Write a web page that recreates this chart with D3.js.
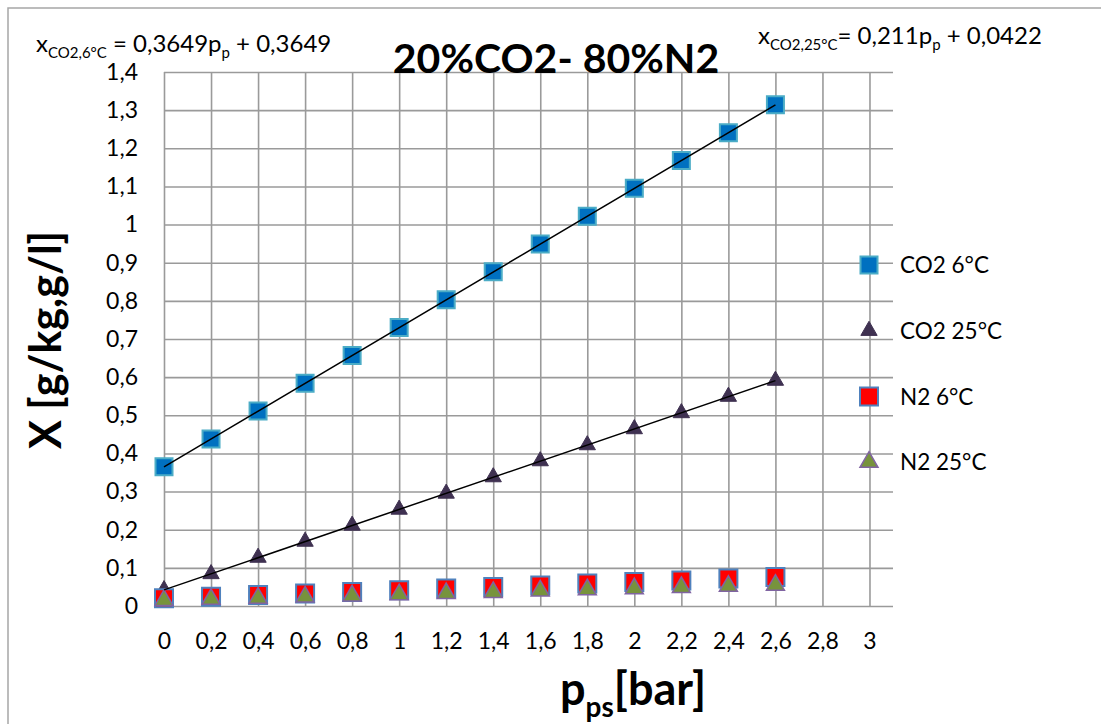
<!DOCTYPE html>
<html>
<head>
<meta charset="utf-8">
<script src="https://cdn.jsdelivr.net/npm/d3@7"></script>
<style>
	body { margin: 0; background: #fff; }
	text { font-family: Lato, "Open Sans", sans-serif; fill: #000; }
</style>
</head>
<body>
<svg id="chart"></svg>
<script>
// pressure points [bar]
const pressure = [0, 0.2, 0.4, 0.6, 0.8, 1, 1.2, 1.4, 1.6, 1.8, 2, 2.2, 2.4, 2.6];

// solubility values
const co2At6 = [0.365, 0.438, 0.511, 0.584, 0.657, 0.730, 0.803, 0.876, 0.949, 1.022, 1.095, 1.168, 1.241, 1.314];
const co2At25 = [0.042, 0.084, 0.127, 0.169, 0.211, 0.253, 0.295, 0.338, 0.380, 0.422, 0.464, 0.506, 0.549, 0.591];
const n2At6 = [0.020, 0.024, 0.029, 0.033, 0.037, 0.041, 0.046, 0.050, 0.054, 0.059, 0.063, 0.067, 0.072, 0.076];
const n2At25 = [0.015, 0.018, 0.021, 0.024, 0.027, 0.030, 0.033, 0.036, 0.040, 0.043, 0.046, 0.049, 0.052, 0.055];

// trendline coefficients [slope, intercept]
const trendCo2At6 = [0.3649, 0.3649];
const trendCo2At25 = [0.211, 0.0422];

const seriesNames = ['CO2 6°C', 'CO2 25°C', 'N2 6°C', 'N2 25°C'];
const xTicks = [0, 0.2, 0.4, 0.6, 0.8, 1, 1.2, 1.4, 1.6, 1.8, 2, 2.2, 2.4, 2.6, 2.8, 3];
const yTicks = [0, 0.1, 0.2, 0.3, 0.4, 0.5, 0.6, 0.7, 0.8, 0.9, 1, 1.1, 1.2, 1.3, 1.4];

const width = 1101;
const height = 724;
const plotLeft = 164, plotRight = 893, plotTop = 72, plotBottom = 606;

const locale = d3.formatLocale({ decimal: ',', thousands: '.', grouping: [3], currency: ['', ''] });
const fmt = locale.format('~g');

const svg = d3.select('#chart')
	.attr('width', width)
	.attr('height', height);

// outer frame (only top and left visible)
svg.append('path')
	.attr('d', `M8,${height} V8 H${width}`)
	.attr('fill', 'none')
	.attr('stroke', '#a6a6a6')
	.attr('stroke-width', 1.5);

const xScale = d3.scaleLinear().domain([0, 3.1]).range([plotLeft, plotRight]);
const yScale = d3.scaleLinear().domain([0, 1.4]).range([plotBottom, plotTop]);

// grid
svg.append('g')
	.attr('class', 'x-grid')
	.attr('transform', `translate(0, ${plotBottom})`)
	.call(d3.axisBottom(xScale).tickValues(xTicks).tickSize(-(plotBottom - plotTop)).tickFormat(''))
	.call(g => g.select('.domain').remove());

svg.append('g')
	.attr('class', 'y-grid')
	.attr('transform', `translate(${plotLeft}, 0)`)
	.call(d3.axisLeft(yScale).tickValues(yTicks).tickSize(-(plotRight - plotLeft)).tickFormat(''))
	.call(g => g.select('.domain').remove());

svg.selectAll('.x-grid line, .y-grid line')
	.attr('stroke', '#9a9a9a')
	.attr('stroke-width', 1.6);

// tick labels
svg.append('g')
	.attr('class', 'x-axis')
	.attr('transform', `translate(0, ${plotBottom})`)
	.call(d3.axisBottom(xScale).tickValues(xTicks).tickSize(0).tickPadding(27).tickFormat(fmt))
	.call(g => g.select('.domain').remove());

svg.append('g')
	.attr('class', 'y-axis')
	.attr('transform', `translate(${plotLeft}, 0)`)
	.call(d3.axisLeft(yScale).tickValues(yTicks).tickSize(0).tickPadding(26).tickFormat(fmt))
	.call(g => g.select('.domain').remove());

svg.selectAll('.x-axis text, .y-axis text')
	.attr('font-family', 'Lato, sans-serif')
	.attr('font-size', 23)
	.attr('fill', '#000');

// series
const series = [
	{ name: seriesNames[0], values: co2At6, shape: d3.symbolSquare, size: 289, fill: '#0070c0', stroke: '#4bacc6', sw: 2 },
	{ name: seriesNames[1], values: co2At25, shape: d3.symbolTriangle, size: 115, fill: '#3f3151', stroke: '#3f3151', sw: 1 },
	{ name: seriesNames[2], values: n2At6, shape: d3.symbolSquare, size: 324, fill: '#ff0000', stroke: '#4f81bd', sw: 2 },
	{ name: seriesNames[3], values: n2At25, shape: d3.symbolTriangle, size: 140, fill: '#77933c', stroke: '#8064a2', sw: 1.5 }
];

series.forEach(s => {
	svg.append('g')
		.selectAll('path')
		.data(s.values)
		.join('path')
		.attr('transform', (d, i) => `translate(${xScale(pressure[i])}, ${yScale(d)})`)
		.attr('d', d3.symbol().type(s.shape).size(s.size))
		.attr('fill', s.fill)
		.attr('stroke', s.stroke)
		.attr('stroke-width', s.sw);
});

// trendlines
const line = d3.line()
	.x(d => xScale(d[0]))
	.y(d => yScale(d[1]));

[trendCo2At6, trendCo2At25].forEach(c => {
	const ends = [0, pressure[pressure.length - 1]].map(p => [p, c[0] * p + c[1]]);
	svg.append('path')
		.datum(ends)
		.attr('d', line)
		.attr('fill', 'none')
		.attr('stroke', '#000')
		.attr('stroke-width', 1.5);
});

// legend
const legend = svg.append('g').attr('class', 'legend');
series.forEach((s, i) => {
	const y = 265 + i * 65.7;
	legend.append('path')
		.attr('transform', `translate(869, ${y})`)
		.attr('d', d3.symbol().type(s.shape).size(s.size))
		.attr('fill', s.fill)
		.attr('stroke', s.stroke)
		.attr('stroke-width', s.sw);
	legend.append('text')
		.attr('x', 900)
		.attr('y', y)
		.attr('dy', '0.36em')
		.attr('font-size', 22.5)
		.text(s.name);
});

// title
svg.append('text')
	.attr('x', 556)
	.attr('y', 73)
	.attr('text-anchor', 'middle')
	.attr('font-size', 41)
	.attr('font-weight', 'bold')
	.text('20%CO2- 80%N2');

// equations
function equation(x, y, sub, rest) {
	const t = svg.append('text')
		.attr('x', x)
		.attr('y', y)
		.attr('font-size', 24);
	t.append('tspan').text('x');
	t.append('tspan').attr('font-size', 15).attr('dy', 6).text(sub);
	t.append('tspan').attr('dy', -6).text(rest[0]);
	t.append('tspan').attr('font-size', 15).attr('dy', 6).text('p');
	t.append('tspan').attr('dy', -6).text(rest[1]);
}
equation(36, 52, 'CO2,6°C', [' = 0,3649p', ' + 0,3649']);
equation(758, 44, 'CO2,25°C', ['= 0,211p', ' + 0,0422']);

// axis titles
svg.append('text')
	.attr('transform', 'translate(46, 340) rotate(-90)')
	.attr('text-anchor', 'middle')
	.attr('dy', '0.35em')
	.attr('font-size', 43)
	.attr('font-weight', 'bold')
	.text('X [g/kg,g/l]');

const xt = svg.append('text')
	.attr('x', 560)
	.attr('y', 705)
	.attr('font-size', 45)
	.attr('font-weight', 'bold');
xt.append('tspan').text('p');
xt.append('tspan').attr('font-size', 28).attr('dy', 12).text('ps');
xt.append('tspan').attr('dy', -12).text('[bar]');
</script>
</body>
</html>
